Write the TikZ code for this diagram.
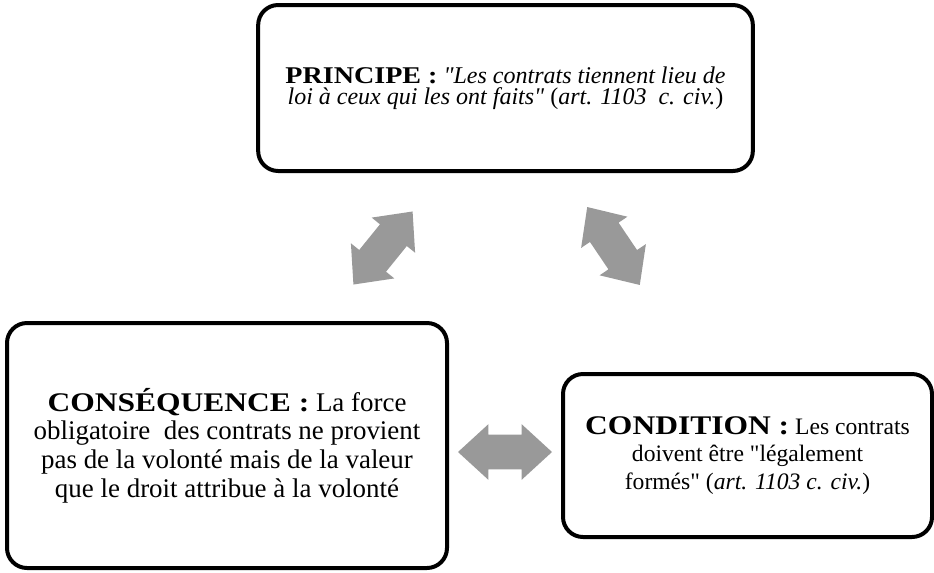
\documentclass[tikz,border=0pt]{standalone}
\usepackage{fontspec}
\setmainfont{Liberation Serif}[BoldFeatures={FakeStretch=1.17}]
\usetikzlibrary{shapes.arrows}
\definecolor{arrowgray}{RGB}{153,153,153}
\tikzset{box/.style={draw=black,line width=3pt,rounded corners=15pt,align=center,inner sep=0pt},
 twoway/.style={double arrow,fill=arrowgray,draw=none,minimum height=70.5pt,
  inner xsep=0pt,inner ysep=12.75pt,double arrow head extend=8pt,double arrow tip angle=85},
 }
\newcommand{\q}{\textquotedbl}

\begin{document}
\begin{tikzpicture}[x=0.75pt,y=-0.75pt]
        \useasboundingbox (0,0) rectangle (934,572);
        \node[box,minimum width=371pt,minimum height=124.5pt,font=\fontsize{18}{15.5}\selectfont] (principe) at (505.5,88)
            {\textbf{PRINCIPE :} \textit{\q Les contrats tiennent lieu de}\\\textit{loi à ceux qui les ont faits\q} (\textit{art. 1103\ \ c. civ.})};
        \node[box,minimum width=330pt,minimum height=183.75pt,font=\fontsize{20.2}{21.5}\selectfont] (consequence) at (227,445.5)
            {\textbf{CONSÉQUENCE :} La force\\obligatoire\ \ des contrats ne provient\\pas de la volonté mais de la valeur\\que le droit attribue à la volonté};
        \node[box,minimum width=276.75pt,minimum height=122.25pt,font=\fontsize{17.7}{20.6}\selectfont] (condition) at (747.5,455.5)
            {{\fontsize{20.2}{20.6}\selectfont\textbf{CONDITION :}} Les contrats\\doivent être \q légalement\\formés\q\ (\textit{art. 1103 c. civ.})};
        \node[twoway,rotate=51] (leftway) at (383,248) {};
        \node[twoway,rotate=-56] (rightway) at (613.5,246) {};
        \node[twoway] (midway) at (505,452) {};
    \end{tikzpicture}
\end{document}
